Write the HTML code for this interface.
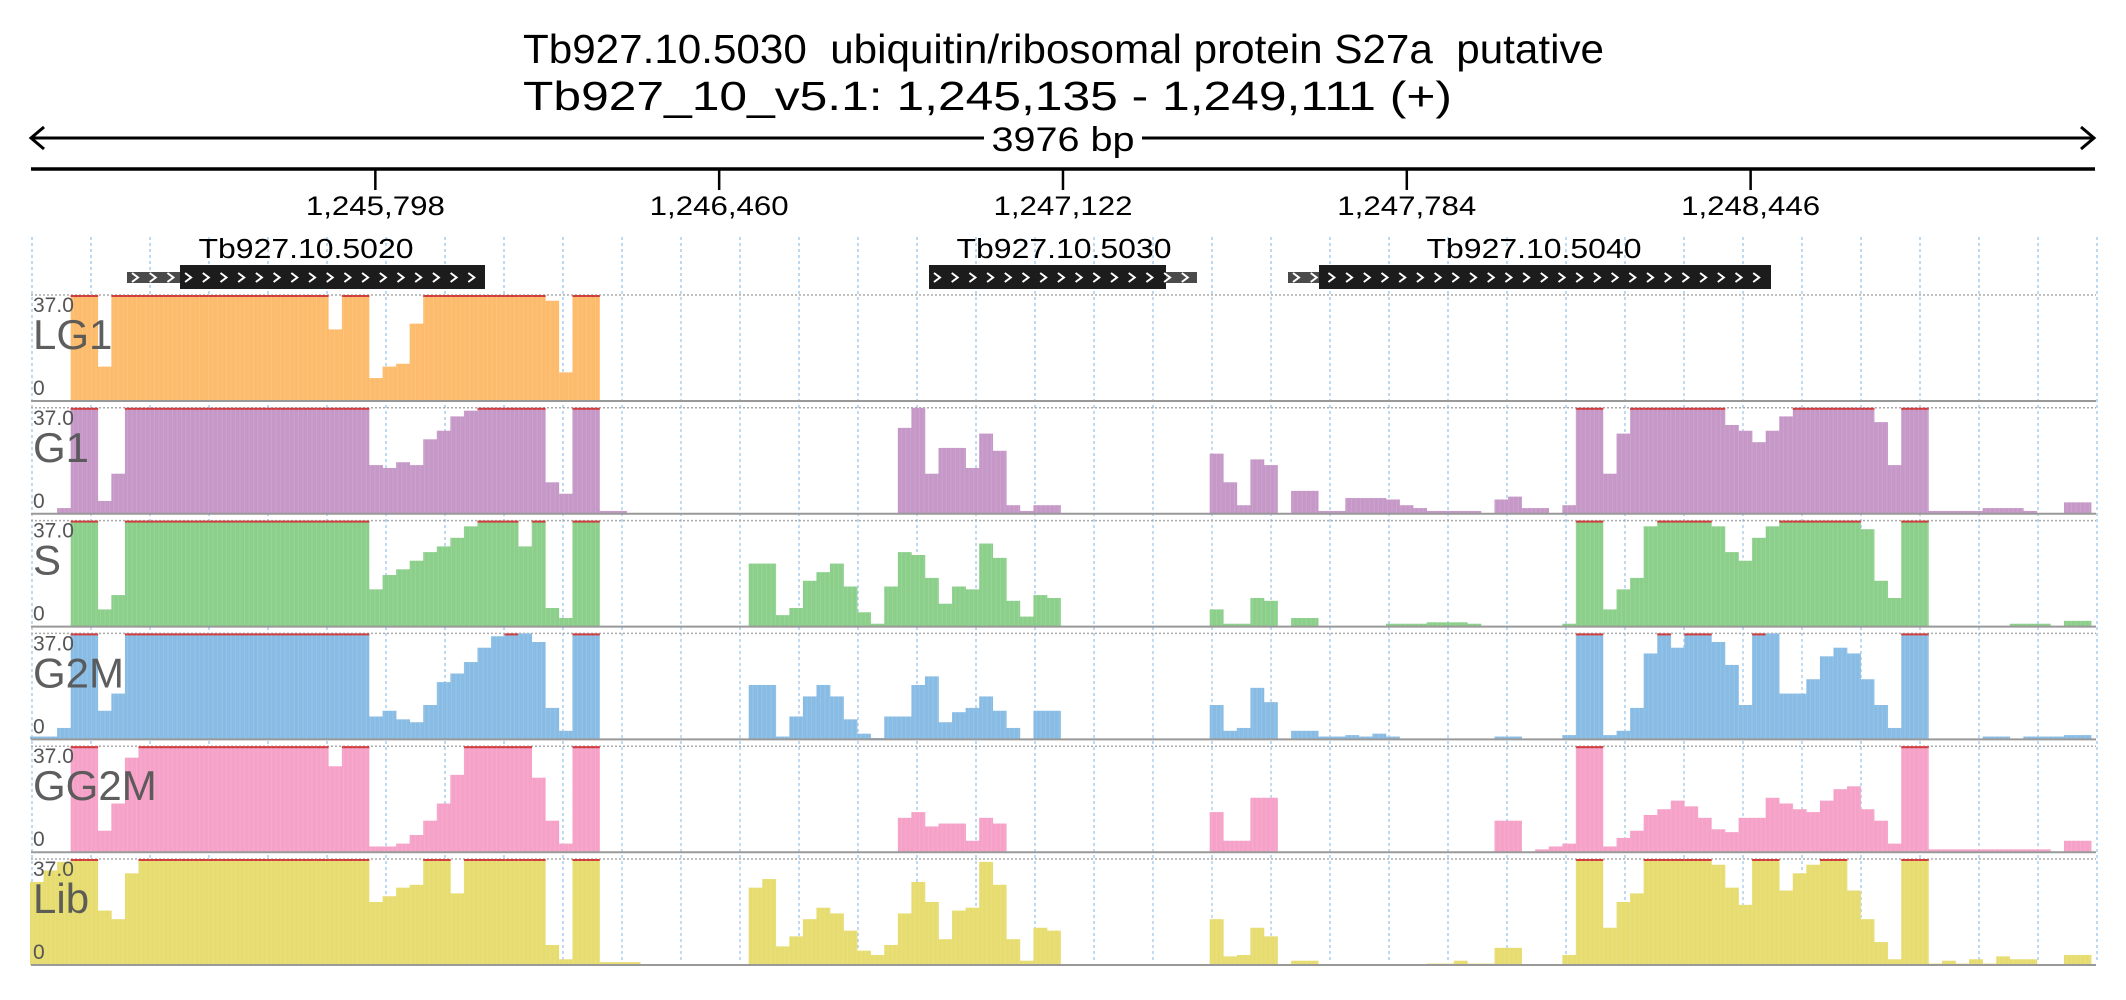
<!DOCTYPE html>
<html><head><meta charset="utf-8"><style>
html,body{margin:0;padding:0;background:#fff;}
svg{display:block;font-family:"Liberation Sans",sans-serif;}
</style></head><body>
<svg id="chart" width="2126" height="1000" viewBox="0 0 2126 1000">
<g>
<text x="523" y="63" font-size="41" textLength="1081" lengthAdjust="spacingAndGlyphs" fill="#000">Tb927.10.5030&#160; ubiquitin/ribosomal protein S27a&#160; putative</text>
<text x="523" y="110" font-size="41" textLength="929" lengthAdjust="spacingAndGlyphs" fill="#000">Tb927_10_v5.1: 1,245,135 - 1,249,111 (+)</text>
<g stroke="#000" stroke-width="3" fill="none">
<line x1="31" y1="138" x2="984" y2="138"/><line x1="1142" y1="138" x2="2094" y2="138"/>
<polyline points="44,127 31,138 44,149"/><polyline points="2081,127 2094,138 2081,149"/>
</g>
<text x="1063" y="151" font-size="34" text-anchor="middle" textLength="143" lengthAdjust="spacingAndGlyphs">3976 bp</text>
<line x1="31" y1="169" x2="2095" y2="169" stroke="#000" stroke-width="3.5"/>
</g>
<g id="ticks"></g>
<g id="grid"></g>
<g id="genes"></g>
<g id="tracks"></g>
</svg>
<script>
const tickLabels=["1,245,798","1,246,460","1,247,122","1,247,784","1,248,446"];
const tickPositions=[1245798,1246460,1247122,1247784,1248446];
const startBp=1245135, endBp=1249111;
const geneNames=["Tb927.10.5020","Tb927.10.5030","Tb927.10.5040"];
const trackNames=["LG1","G1","S","G2M","GG2M","Lib"];
const trackColors=["#fdbb6c","#c598c7","#8bcf8b","#89bce4","#f5a1c8","#e6dc70"];
const yMax=37;
const LG1=[0,0,0,40,40,12,40,40,40,40,40,40,40,40,40,40,40,40,40,40,40,40,25,40,40,8,12,13,27,40,40,40,40,40,40,40,40,40,35,10,40,40];
const G1=[0,0,2,40,40,4.5,14,40,40,40,40,40,40,40,40,40,40,40,40,40,40,40,40,40,40,17,16,18,17,26,29,34,36,40,40,40,40,40,11,7,40,40,1,1,0,0,0,0,0,0,0,0,0,0,0,0,0,0,0,0,0,0,0,0,30,37,14,23,23,16,28,22,3,1,3,3,0,0,0,0,0,0,0,0,0,0,0,21,11,3,19,17,0,8,8,1,1,5.5,5.5,5.5,5,3,2,1,1,1,1,0,5,6,2,2,0,3,40,40,14,28,40,40,40,40,40,40,40,31,29,25,29,34,40,40,40,40,40,40,32,17,40,40,1,1,1,1,2,2,2,1,0,0,4,4];
const S=[0,0,0,40,40,6,11,40,40,40,40,40,40,40,40,40,40,40,40,40,40,40,40,40,40,13,18,20,23,26,28,31,35,40,40,40,28,40,6.5,3,40,40,0,0,0,0,0,0,0,0,0,0,0,22,22,4,6.5,16,19,22,14,5,1,14,26,25,17,8,14,13,29,24,9,3.5,11,10,0,0,0,0,0,0,0,0,0,0,0,6,1,1,10,9,0,3,3,0,0,0,0,0,1,1,1,1.5,1.5,1.5,1,0,0,0,0,0,0,1,40,40,6,13,17,35,40,40,40,40,35,26,23,31,35,40,40,40,40,40,40,34,16,10,40,40,0,0,0,0,0,0,1,1,1,0,2,2];
const G2M=[1,1,4,40,40,10,16,40,40,40,40,40,40,40,40,40,40,40,40,40,40,40,40,40,40,8,10,7,6,12,20,23,27,32,36,40,37,34,11,3,40,40,0,0,0,0,0,0,0,0,0,0,0,19,19,1,8,15,19,15,7,2,0.5,8,8,19,22,6,9.5,11,15,10,4,0,10,10,0,0,0,0,0,0,0,0,0,0,0,12,3,4,18,13,0,3,3,1,1,1.5,1,2,1,0,0,0,0,0,0,0,1,1,0,0,0,1.5,40,40,1.5,3,11,30,40,32,40,40,34,26,12,40,37,16,16,21,29,32,30,21,12,4,40,40,0,0,0,0,1,1,0,1,1,1,1.5,1.5];
const GG2M=[0,0,0,40,40,7.5,17,33,40,40,40,40,40,40,40,40,40,40,40,40,40,40,30,40,40,2,2,3,6,11,17,27,40,40,40,40,40,26,11,3,40,40,0,0,0,0,0,0,0,0,0,0,0,0,0,0,0,0,0,0,0,0,0,0,12,14,9,10,10,4,12,10,0,0,0,0,0,0,0,0,0,0,0,0,0,0,0,14,4,4,19,19,0,0,0,0,0,0,0,0,0,0,0,0,0,0,0,0,11,11,0,1,2,3,40,40,2,5,7.5,13,15,18,16,12,8,7,12,12,19,17,15,14,18,22,23,15,11,3,40,40,1,1,1,1,1,1,1,1,1,0,4,4];
const Lib=[29,33,36,40,40,19,16,32,40,40,40,40,40,40,40,40,40,40,40,40,40,40,40,40,40,22,24,27,28,40,40,25,40,40,40,40,40,40,7,2,40,40,1,1,1,0,0,0,0,0,0,0,0,27,30,6.5,10,16,20,18,12,5,3.5,7,18,29,22,9,19,20,36,28,9,1.5,13,12,0,0,0,0,0,0,0,0,0,0,0,16,3,3.5,13,10,0,1.5,1.5,0,0,0,0,0,0,0,0,0.5,0.5,1.5,0.5,0.5,6,6,0,0,0,3.5,40,40,13,22,25,40,40,40,40,40,35,27,21,40,40,26,32,35,40,40,26,16,8,2,40,40,0.5,1.5,0.5,2,0.5,3,2,2,0,0,3.5,3.5];
const series=[LG1,G1,S,G2M,GG2M,Lib];

const NS="http://www.w3.org/2000/svg";
const X0=31,X1=2096;
function xBp(bp){return X0+(bp-startBp)/(endBp-startBp)*(X1-X0);}
const binW=13.56, binX0=30;
function xBin(i){return binX0+i*binW;}
function mk(tag,attrs,parent){const e=document.createElementNS(NS,tag);for(const k in attrs)e.setAttribute(k,attrs[k]);parent.appendChild(e);return e;}

const tg=document.getElementById('ticks');
tickPositions.forEach((p,i)=>{
  const x=xBp(p);
  const l=mk('line',{x1:x,y1:169,x2:x,y2:190,stroke:'#000','stroke-width':2.5},tg);
  
  
  const t=mk('text',{x:x,y:215,'font-size':27,'text-anchor':'middle',textLength:139,lengthAdjust:'spacingAndGlyphs'},tg);
  t.textContent=tickLabels[i];
  
  
});

const gg=document.getElementById('grid');
for(let k=0;k<=35;k++){
  const x=32+k*59;
  const l=mk('line',{x1:x,y1:237,x2:x,y2:962,stroke:'#a9cdee','stroke-width':1.5,'stroke-dasharray':'3,3'},gg);
  
  
}

const genesG=document.getElementById('genes');
const geneUtrStart=[127,1166,1288], geneCdsStart=[180,929,1319], geneCdsEnd=[485,1166,1771], geneUtrEnd=[180,1197,1319];
const geneLabelX=[306,1064,1534];
geneNames.forEach((n,i)=>{
  const g=mk('g',{},genesG);
  
  
  const t=mk('text',{x:geneLabelX[i],y:258,'font-size':28,'text-anchor':'middle',textLength:215,lengthAdjust:'spacingAndGlyphs'},g);
  t.textContent=n;
  
  
  let us,ue;
  if(i===1){us=geneCdsEnd[i];ue=geneUtrEnd[i];}else{us=geneUtrStart[i];ue=geneUtrEnd[i];}
  const u=mk('rect',{x:us,y:272,width:ue-us,height:11,fill:'#4a4a4a'},g);
  
  
  const c=mk('rect',{x:geneCdsStart[i],y:265,width:geneCdsEnd[i]-geneCdsStart[i],height:24,fill:'#1c1c1c'},g);
  
  
  const a=Math.min(us,geneCdsStart[i]), b=Math.max(ue,geneCdsEnd[i]);
  for(let x=a+5;x<b-10;x+=17.7){
    mk('polyline',{points:`${x},${273} ${x+6},${277.5} ${x},${282}`,fill:'none',stroke:'#fff','stroke-width':2},g);
  }
});

const tracksG=document.getElementById('tracks');
const trackTop0=295, pitch=112.8, trackH=106;
series.forEach((vals,si)=>{
  const top=trackTop0+si*pitch, bot=top+trackH;
  const g=mk('g',{},tracksG);
  
  
  const tl=mk('line',{x1:31,y1:top,x2:2096,y2:top,stroke:'#aaa','stroke-width':1.5,'stroke-dasharray':'2,2'},g);
  
  
  const yv=v=>bot-Math.min(v,yMax)/yMax*trackH;
  vals.forEach((v,i)=>{
    if(v<=0)return;
    const r=mk('rect',{x:xBin(i),y:yv(v),width:binW+0.3,height:bot-yv(v),fill:trackColors[si]},g);
    
    
    if(v>yMax){
      const c=mk('rect',{x:xBin(i),y:top,width:binW+0.3,height:2,fill:'#d03a3a'},g);
      
      
    }
  });
  for(let x=binX0+3;x<2096;x+=4.5){
    mk('line',{x1:x,y1:top,x2:x,y2:bot,stroke:'#fff','stroke-width':0.6,'stroke-opacity':0.18},g);
  }
  const bl=mk('line',{x1:31,y1:bot,x2:2096,y2:bot,stroke:'#999','stroke-width':2},g);
  
  
  const mx=mk('text',{x:33,y:top+17,'font-size':21,fill:'#555'},g);
  mx.textContent='37.0';
  
  
  const nm=mk('text',{x:33,y:top+54,'font-size':42,fill:'#555','fill-opacity':0.95},g);
  nm.textContent=trackNames[si];
  
  
  const z=mk('text',{x:33,y:bot-6,'font-size':21,fill:'#555'},g);
  z.textContent='0';
  
  
});
</script>
</body></html>
